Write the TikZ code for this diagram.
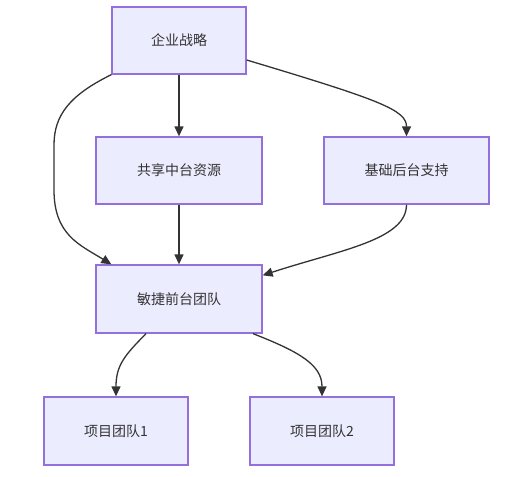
\documentclass[tikz,border=0pt]{standalone}
\usepackage{fontspec}
\setmainfont{Noto Sans CJK SC}
\usepackage{xcolor}
\usetikzlibrary{arrows.meta, positioning}
\definecolor{nodefill}{HTML}{ECECFF}
\definecolor{nodeline}{HTML}{9370DB}
\definecolor{edgeline}{HTML}{333333}

\begin{document}
\begin{tikzpicture}[
    x=1pt, y=-1pt,
    box/.style={draw=nodeline, fill=nodefill, line width=1.3pt, inner sep=0pt, font=\fontsize{14}{17}\selectfont, text=edgeline, minimum height=67pt},
    arrow/.style={-{Triangle[length=10pt,width=9pt]}, line width=1.3pt, draw=edgeline}
]
\useasboundingbox (0,0) rectangle (510,476);
% Top level
\node[box, minimum width=134pt] (strat) at (179,40.5) {企业战略};
% Middle and back office
\node[box, minimum width=166pt] (shared) at (179,170.5) {共享中台资源};
\node[box, minimum width=165pt] (base) at (406.5,170.5) {基础后台支持};
% Front office and teams
\node[box, minimum width=166pt, minimum height=68pt] (agile) at (179,299) {敏捷前台团队};
\node[box, minimum width=144pt, minimum height=68pt] (team1) at (116,431) {项目团队1};
\node[box, minimum width=144pt, minimum height=68pt] (team2) at (322,431) {项目团队2};
% Arrows
\draw[arrow] (strat) -- (shared);
\draw[arrow] ([yshift=-19.5pt]strat.east) .. controls (380,100) and (406.5,110) .. (base.north);
\draw[arrow] (strat.south west) .. controls (70,95) and (54,115) .. (54,145) -- (54,190)
    .. controls (54,235) and (80,245) .. ([xshift=16pt]agile.north west);
\draw[arrow] (shared) -- (agile);
\draw[arrow] (base.south) .. controls (406.5,240) and (340,250) .. ([yshift=-11pt]agile.north east);
\draw[arrow] ([xshift=-33pt]agile.south) .. controls (125,355) and (116,365) .. (team1.north);
\draw[arrow] ([xshift=74pt]agile.south) .. controls (300,352) and (322,365) .. (team2.north);
\end{tikzpicture}
\end{document}
